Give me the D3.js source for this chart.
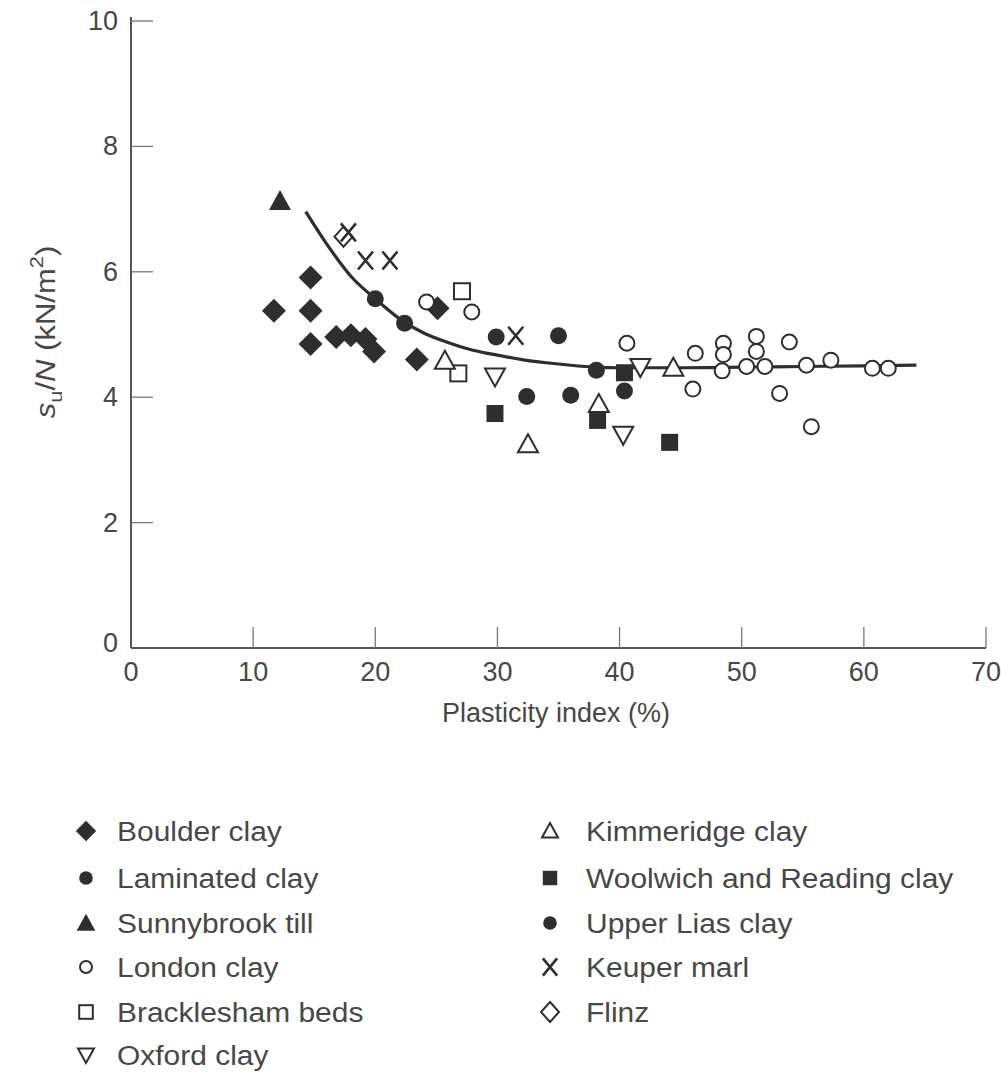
<!DOCTYPE html>
<html><head><meta charset="utf-8">
<script src="https://cdn.jsdelivr.net/npm/d3@7"></script>
<style>
body{margin:0;background:#fff;}
svg{display:block;font-family:"Liberation Sans",Arial,Helvetica,sans-serif;}
</style></head>
<body><svg id="c" width="1001" height="1073"></svg>
<script>
// ---- data (plasticity index %, su/N) ----
const boulderClay = [[11.7,5.38],[14.7,5.91],[14.7,5.38],[14.7,4.85],[16.8,4.96],[18.0,4.99],[19.2,4.93],[19.9,4.73],[23.4,4.60],[25.1,5.42]];
const laminatedClay = [[20.0,5.57],[22.4,5.18]];
const sunnybrookTill = [[12.2,7.13]];
const londonClay = [[24.2,5.52],[27.9,5.36],[40.6,4.86],[46.2,4.70],[46.0,4.13],[48.5,4.86],[48.5,4.68],[48.4,4.42],[50.4,4.49],[51.2,4.97],[51.2,4.73],[51.9,4.49],[53.1,4.06],[53.9,4.88],[55.3,4.51],[55.7,3.53],[57.3,4.59],[60.7,4.46],[62.0,4.46]];
const brackleshamBeds = [[27.1,5.69],[26.8,4.38]];
const oxfordClay = [[29.8,4.33],[40.3,3.40],[41.7,4.48]];
const kimmeridgeClay = [[25.7,4.58],[32.5,3.25],[38.3,3.89],[44.4,4.47]];
const woolwichReadingClay = [[29.8,3.74],[38.2,3.63],[40.4,4.39],[44.1,3.28]];
const upperLiasClay = [[29.9,4.96],[35.0,4.98],[32.4,4.01],[36.0,4.03],[38.1,4.43],[40.4,4.10]];
const keuperMarl = [[17.8,6.63],[19.2,6.18],[21.2,6.18],[31.5,4.98]];
const flinz = [[17.4,6.56]];
// trend curve
const trendX = [14.3,16,18,20,22,24,26,28,30,32,34,36,38,40,45,50,55,60,64.3];
const trendY = [6.96,6.45,5.93,5.57,5.25,5.02,4.87,4.75,4.67,4.60,4.55,4.51,4.48,4.47,4.47,4.48,4.49,4.50,4.51];
const xTicks = [0,10,20,30,40,50,60,70];
const yTicks = [0,2,4,6,8,10];

const legendLeft = [["diamondF","Boulder clay"],["circleF","Laminated clay"],["triF","Sunnybrook till"],["circleO","London clay"],["squareO","Bracklesham beds"],["triDownO","Oxford clay"]];
const legendRight = [["triO","Kimmeridge clay"],["squareF","Woolwich and Reading clay"],["circleF","Upper Lias clay"],["cross","Keuper marl"],["diamondO","Flinz"]];

const series = [
  [boulderClay,"diamondF"],[laminatedClay,"circleF"],[sunnybrookTill,"triF"],[londonClay,"circleO"],
  [brackleshamBeds,"squareO"],[oxfordClay,"triDownO"],[kimmeridgeClay,"triO"],[woolwichReadingClay,"squareF"],
  [upperLiasClay,"circleF"],[flinz,"diamondO"],[keuperMarl,"cross"]
];

const INK = "#2e2e2e";
const TXT = "#474747";
const svg = d3.select("#c");
const x = d3.scaleLinear().domain([0,70]).range([131,986]);
const y = d3.scaleLinear().domain([0,10]).range([648,21]);

// axes
const g = svg.append("g");
g.append("line").attr("x1",x(0)).attr("x2",x(70)).attr("y1",y(0)).attr("y2",y(0)).attr("stroke","#555").attr("stroke-width",2);
g.append("line").attr("x1",x(0)).attr("x2",x(0)).attr("y1",y(0)).attr("y2",y(10)-4).attr("stroke","#555").attr("stroke-width",2);
xTicks.forEach(t=>{
  if(t>0) g.append("line").attr("x1",x(t)).attr("x2",x(t)).attr("y1",y(0)).attr("y2",y(0)-21).attr("stroke","#777").attr("stroke-width",1.3);
  g.append("text").attr("x",x(t)).attr("y",y(0)+33).attr("text-anchor","middle").attr("font-size",27).attr("fill",TXT).text(t);
});
yTicks.forEach(t=>{
  if(t>0) g.append("line").attr("x1",x(0)).attr("x2",x(0)+22).attr("y1",y(t)).attr("y2",y(t)).attr("stroke","#777").attr("stroke-width",1.3);
  g.append("text").attr("x",x(0)-13).attr("y",y(t)+(t===0?4:9)).attr("text-anchor","end").attr("font-size",27).attr("fill",TXT).text(t);
});
g.append("text").attr("x",556).attr("y",722).attr("text-anchor","middle").attr("font-size",27).attr("fill",TXT).text("Plasticity index (%)");
const yl = g.append("text").attr("transform","translate(55,332) rotate(-90) scale(1.15,1)").attr("text-anchor","middle").attr("font-size",27).attr("fill",TXT);
yl.append("tspan").attr("font-style","italic").text("s");
yl.append("tspan").attr("font-size",19).attr("dy",7).text("u");
yl.append("tspan").attr("dy",-7).text("/");
yl.append("tspan").attr("font-style","italic").text("N");
yl.append("tspan").text(" (kN/m");
yl.append("tspan").attr("font-size",19).attr("dy",-12).text("2");
yl.append("tspan").attr("dy",12).text(")");

// trend line
const line = d3.line().x(d=>x(d[0])).y(d=>y(d[1])).curve(d3.curveMonotoneX);
svg.append("path").attr("d",line(trendX.map((v,i)=>[v,trendY[i]]))).attr("fill","none").attr("stroke",INK).attr("stroke-width",3.2);

// marker drawing
function marker(sel, type, s){
  switch(type){
    case "diamondF": sel.append("path").attr("d",`M0,${-12*s}L${12*s},0L0,${12*s}L${-12*s},0Z`).attr("fill",INK); break;
    case "diamondO": sel.append("path").attr("d",`M0,${-10*s}L${9*s},0L0,${10*s}L${-9*s},0Z`).attr("fill","#fff").attr("stroke",INK).attr("stroke-width",2); break;
    case "circleF": sel.append("circle").attr("r",8.5*s).attr("fill",INK); break;
    case "circleO": sel.append("circle").attr("r",7.5*s).attr("fill","#fff").attr("stroke",INK).attr("stroke-width",2); break;
    case "squareF": sel.append("rect").attr("x",-8.5*s).attr("y",-8.5*s).attr("width",17*s).attr("height",17*s).attr("fill",INK); break;
    case "squareO": sel.append("rect").attr("x",-8*s).attr("y",-8*s).attr("width",16*s).attr("height",16*s).attr("fill","#fff").attr("stroke",INK).attr("stroke-width",2); break;
    case "triF": sel.append("path").attr("d",`M0,${-11*s}L${11*s},${9*s}L${-11*s},${9*s}Z`).attr("fill",INK); break;
    case "triO": sel.append("path").attr("d",`M0,${-10*s}L${10*s},${8*s}L${-10*s},${8*s}Z`).attr("fill","#fff").attr("stroke",INK).attr("stroke-width",2); break;
    case "triDownO": sel.append("path").attr("d",`M0,${10*s}L${10*s},${-8*s}L${-10*s},${-8*s}Z`).attr("fill","#fff").attr("stroke",INK).attr("stroke-width",2); break;
    case "cross": sel.append("path").attr("d",`M${-7.5*s},${-9*s}L${7.5*s},${9*s}M${7.5*s},${-9*s}L${-7.5*s},${9*s}`).attr("fill","none").attr("stroke",INK).attr("stroke-width",2.6); break;
  }
}
const pts = svg.append("g");
series.forEach(([data,type])=>{
  data.forEach(d=>{
    const m = pts.append("g").attr("transform",`translate(${x(d[0])},${y(d[1])})`);
    marker(m,type,1);
  });
});

// legend
const legendSizes = {diamondF:0.85,circleF:0.8,triF:0.85,circleO:0.8,squareO:0.85,triDownO:0.8,triO:0.8,squareF:0.85,cross:0.95,diamondO:1.0};
const rowY = [831,878,923,967,1012,1055];
const lg = svg.append("g");
legendLeft.forEach(([t,label],i)=>{
  marker(lg.append("g").attr("transform",`translate(86,${rowY[i]})`),t,legendSizes[t]);
  lg.append("text").attr("transform",`translate(117,${rowY[i]+10}) scale(1.07,1)`).attr("font-size",28).attr("fill",TXT).text(label);
});
legendRight.forEach(([t,label],i)=>{
  marker(lg.append("g").attr("transform",`translate(550,${rowY[i]})`),t,legendSizes[t]);
  lg.append("text").attr("transform",`translate(586,${rowY[i]+10}) scale(1.07,1)`).attr("font-size",28).attr("fill",TXT).text(label);
});
</script></body></html>
